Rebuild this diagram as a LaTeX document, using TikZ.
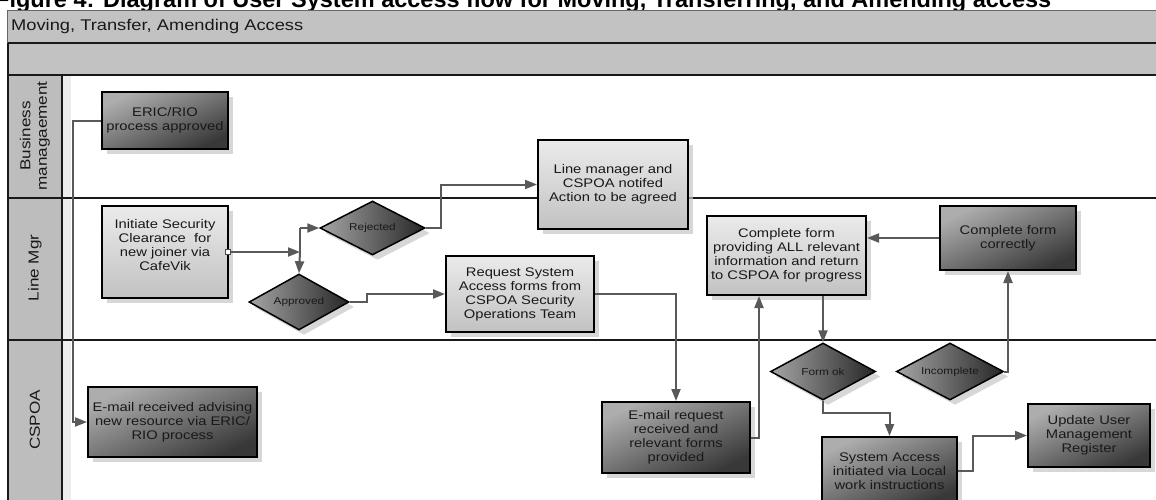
\documentclass[tikz,border=0pt]{standalone}
\usepackage{fontspec}
\setmainfont{Liberation Sans}
\newfontfamily\wide[FakeStretch=1.18]{Liberation Sans}
\usetikzlibrary{shapes.geometric,arrows.meta,shadows}

\tikzset{
  frame/.style={draw=black!90, line width=2pt},
  band/.style={fill=black!24},
  lanefill/.style={fill=black!26},
  boxshadow/.style={drop shadow={shadow xshift=5pt, shadow yshift=-5pt, fill=black!22, opacity=0.7}},
  lightbox/.style={rectangle, draw=black, line width=2pt, top color=black!8, bottom color=black!24,
    align=center, inner sep=0pt, text=black!90, font=\wide\fontsize{12.5}{14}\selectfont, boxshadow},
  darkbox/.style={lightbox, top color=black!32, bottom color=black!78, shading angle=25},
  decision/.style={diamond, draw=black, line width=1.5pt, left color=black!35, right color=black!85,
    inner sep=0pt, aspect=1.9, text=black!90, font=\wide\fontsize{10}{12}\selectfont, boxshadow},
  lanelabel/.style={rotate=90, align=center, text=black!90, font=\wide\fontsize{14.5}{16.5}\selectfont},
  conn/.style={draw=black!65, line width=2pt, -{Triangle[length=12pt,width=9pt]}},
  link/.style={draw=black!65, line width=2pt},
  portmark/.style={draw=black!70, fill=white, line width=0.8pt, minimum size=5pt, inner sep=0pt}
}

\begin{document}
\begin{tikzpicture}[x=1pt,y=-1pt]
\useasboundingbox (0,0) rectangle (1156,499);
\clip (0,0) rectangle (1156,499);
\fill[white] (0,0) rectangle (1156,499);

% caption line above the frame
\node[anchor=base west, inner sep=0pt, font=\bfseries\fontsize{23.5}{26}\selectfont] (caption)
  at (-5,7) {Figure 4: Diagram of User System access flow for Moving, Transferring, and Amending access};

% pool header bands
\fill[band] (7,10) rectangle (1160,43);
\draw[black!60, line width=0.8pt] (1160,10) -- (7,10) -- (7,43);
\node[anchor=west, inner sep=0pt, text=black!90, font=\wide\fontsize{15.5}{18}\selectfont] (pool)
  at (11,26) {Moving, Transfer, Amending Access};
\fill[band] (7,43) rectangle (1160,75);

% lane column and separators
\fill[lanefill] (8,75) rectangle (62,505);
\fill[black!7] (63,75) rectangle (71,505);
\draw[frame] (8,43) -- (1160,43);
\draw[frame] (8,75) -- (1160,75);
\draw[frame] (8,43) -- (8,505);
\draw[frame] (62,75) -- (62,505);
\draw[frame] (8,198) -- (1160,198);
\draw[frame] (8,340) -- (1160,340);

% lane titles
\node[lanelabel] (laneBM) at (35,136) {Business\\managaement};
\node[lanelabel] (laneLM) at (35,268) {Line Mgr};
\node[lanelabel] (laneCS) at (35,420) {CSPOA};

% process steps
\node[darkbox, minimum width=126pt, minimum height=57pt] (eric) at (165,120.5)
  {ERIC/RIO\\process approved};
\node[lightbox, minimum width=126pt, minimum height=92pt] (ini) at (165,252)
  {Initiate Security\\Clearance\ \ for\\new joiner via\\CafeVik\\[0pt]\mbox{}};
\node[darkbox, minimum width=169pt, minimum height=70pt] (email1) at (172.5,422)
  {E-mail received advising\\new resource via ERIC/\\RIO process};
\node[lightbox, minimum width=150pt, minimum height=89pt] (lm) at (613,184.5)
  {Line manager and\\CSPOA notifed\\Action to be agreed};
\node[lightbox, minimum width=148pt, minimum height=76pt] (req) at (520,294)
  {Request System\\Access forms from\\CSPOA Security\\Operations Team};
\node[lightbox, minimum width=159pt, minimum height=79pt] (cf) at (786.5,255.5)
  {Complete form\\providing ALL relevant\\information and return\\to CSPOA for progress};
\node[darkbox, minimum width=136pt, minimum height=64pt] (cfc) at (1008,238)
  {Complete form\\correctly};
\node[darkbox, minimum width=148pt, minimum height=71pt] (emreq) at (676,437.5)
  {E-mail request\\received and\\relevant forms\\provided};
\node[darkbox, minimum width=135pt, minimum height=68pt] (sa) at (889.5,471)
  {System Access\\initiated via Local\\work instructions};
\node[darkbox, minimum width=122pt, minimum height=63pt] (uu) at (1089,435.5)
  {Update User\\Management\\Register};

% decisions
\node[decision, minimum width=105pt, minimum height=54pt] (rej) at (372.5,228) {Rejected};
\node[decision, minimum width=100pt, minimum height=56pt] (appr) at (299,302) {Approved};
\node[decision, minimum width=105pt, minimum height=57pt] (formok) at (823,371.5) {Form ok};
\node[decision, minimum width=107pt, minimum height=57pt] (inc) at (950,371.5) {Incomplete};

% connectors
\draw[conn] (eric.west) -- ++(-28,0) |- (email1.west);

\node[portmark] (port) at ([xshift=-1pt]ini.east) {};
\coordinate (jn) at ([xshift=71pt]ini.east);
\draw[conn] (port.east) -- (jn);
\draw[link] (jn |- rej.west) -- (jn);
\draw[conn] (jn |- rej.west) -- (rej.west);
\draw[conn] (jn) -- (appr.north);

\draw[conn] (rej.east) -- ++(15,0) |- (lm.west);
\draw[conn] (appr.east) -- ++(17,0) |- (req.west);
\draw[conn] (req.east) -| (emreq.north);
\draw[conn] (emreq.east) -| ([xshift=53pt]cf.south west);
\draw[conn] (cf.south west -| formok.north) -- (formok.north);
\draw[conn] (cfc.west) -- (cf.east |- cfc.west);
\draw[conn] (inc.east) -| (cfc.south);
\draw[conn] (formok.south) -- ++(0,12) -| (sa.north);
\draw[conn] (sa.east) -- ++(15,0) |- (uu.west);
\end{tikzpicture}
\end{document}
